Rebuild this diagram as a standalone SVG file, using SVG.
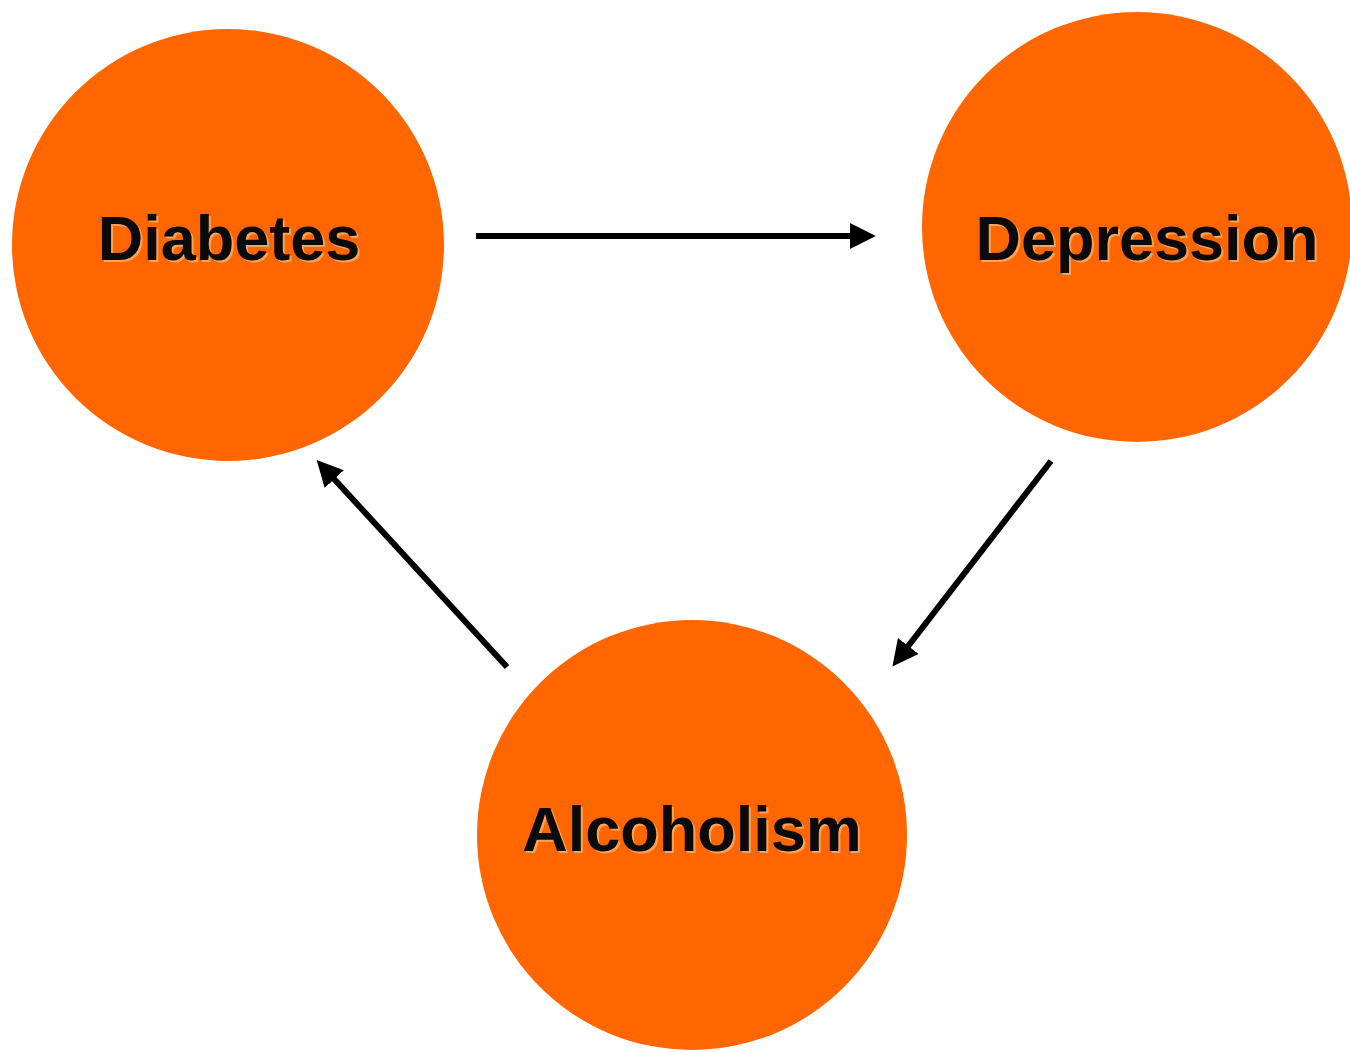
<svg xmlns="http://www.w3.org/2000/svg" width="1350" height="1052" viewBox="0 0 1350 1052">
<style>
.node{fill:#FF6600;}
.lbl{font-family:"Liberation Sans",Arial,sans-serif;font-weight:bold;font-size:63px;text-anchor:middle;fill:#0a0a0a;}
.shadow{font-family:"Liberation Sans",Arial,sans-serif;font-weight:bold;font-size:63px;text-anchor:middle;fill:#f7a35c;}
.conn{stroke:#000;stroke-width:6;fill:none;}
</style>
<defs>
<marker id="ah" markerUnits="userSpaceOnUse" markerWidth="26" markerHeight="26" viewBox="0 0 24 24" refX="14" refY="12" orient="auto">
<path d="M0,0 L24,12 L0,24 z" fill="#000"/>
</marker>
</defs>
<rect width="1350" height="1052" fill="#fff"/>
<g id="diabetes">
<circle class="node" cx="228" cy="245" r="216"/>
<text class="shadow" x="231" y="262">Diabetes</text>
<text class="lbl" x="229" y="260">Diabetes</text>
</g>
<g id="depression">
<circle class="node" cx="1137" cy="227" r="215"/>
<text class="shadow" x="1149" y="262">Depression</text>
<text class="lbl" x="1147" y="260">Depression</text>
</g>
<g id="alcoholism">
<circle class="node" cx="692" cy="835" r="215"/>
<text class="shadow" x="694" y="853">Alcoholism</text>
<text class="lbl" x="692" y="851">Alcoholism</text>
</g>
<g id="connectors">
<line class="conn" x1="476" y1="236" x2="865" y2="236" marker-end="url(#ah)"/>
<line class="conn" x1="1051" y1="461" x2="899" y2="658" marker-end="url(#ah)"/>
<line class="conn" x1="507" y1="667" x2="324" y2="468" marker-end="url(#ah)"/>
</g>
</svg>
